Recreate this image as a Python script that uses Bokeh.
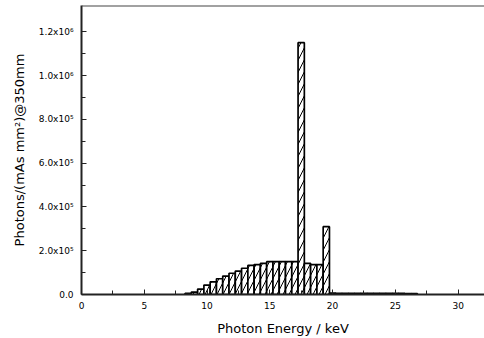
from bokeh.plotting import figure
from bokeh.models import FixedTicker, Span
from bokeh.embed import file_html
from bokeh.resources import INLINE

# Bin centres (keV) and photon counts
energy = [8.5, 9.0, 9.5, 10.0, 10.5, 11.0, 11.5, 12.0, 12.5, 13.0, 13.5, 14.0,
          14.5, 15.0, 15.5, 16.0, 16.5, 17.0, 17.5, 18.0, 18.5, 19.0, 19.5,
          20.0, 20.5, 21.0, 21.5, 22.0, 22.5, 23.0, 23.5, 24.0, 24.5, 25.0,
          25.5, 26.0, 26.5]
photons = [5e3, 1.1e4, 2.5e4, 4.3e4, 5.8e4, 7.2e4, 8.4e4, 9.7e4, 1.07e5, 1.2e5,
           1.33e5, 1.36e5, 1.42e5, 1.5e5, 1.5e5, 1.5e5, 1.5e5, 1.5e5, 1.15e6,
           1.42e5, 1.36e5, 1.36e5, 3.1e5,
           6e3, 5e3, 5e3, 5e3, 5e3, 5e3, 5e3, 5e3, 5e3, 5e3, 5e3, 5e3, 4e3, 4e3]

x_ticks = [0, 5, 10, 15, 20, 25, 30]
x_minor = [2.5, 7.5, 12.5, 17.5, 22.5, 27.5]
y_ticks = [0, 2e5, 4e5, 6e5, 8e5, 1.0e6, 1.2e6]
y_minor = [1e5, 3e5, 5e5, 7e5, 9e5, 1.1e6]
y_labels = ["0.0", "2.0x10\u2075", "4.0x10\u2075", "6.0x10\u2075",
            "8.0x10\u2075", "1.0x10\u2076", "1.2x10\u2076"]
x_title = "Photon Energy / keV"
y_title = "Photons/(mAs mm\u00b2)@350mm"

FONT = "DejaVu Sans"
Y_END = 1.32e6

p = figure(width=484, height=338, output_backend="svg", toolbar_location=None,
           x_range=(0, 32.1), y_range=(0, Y_END),
           min_border_left=81, min_border_right=0, min_border_top=5,
           min_border_bottom=44)

p.vbar(x=energy, top=photons, width=0.5, fill_color="white",
       line_color="black", line_width=1.7, hatch_pattern="/",
       hatch_color="black", hatch_scale=12, hatch_weight=1)

p.xgrid.visible = False
p.ygrid.visible = False
p.outline_line_color = None
p.background_fill_color = "white"
p.border_fill_color = "white"

p.add_layout(Span(location=Y_END, dimension="width", line_color="#444444",
                  line_width=2))

for ax in (p.xaxis[0], p.yaxis[0]):
    ax.axis_line_width = 2
    ax.axis_line_color = "#222222"
    ax.major_tick_in = 5
    ax.major_tick_out = 0
    ax.minor_tick_in = 4
    ax.minor_tick_out = 0
    ax.major_tick_line_color = "#222222"
    ax.minor_tick_line_color = "#222222"
    ax.major_label_text_font = FONT
    ax.major_label_text_font_size = "9px"
    ax.major_label_text_color = "black"
    ax.axis_label_text_font = FONT
    ax.axis_label_text_font_size = "13px"
    ax.axis_label_text_font_style = "normal"
    ax.axis_label_text_color = "black"

p.xaxis.ticker = FixedTicker(ticks=x_ticks, minor_ticks=x_minor)
p.yaxis.ticker = FixedTicker(ticks=y_ticks, minor_ticks=y_minor)
p.yaxis.major_label_overrides = {t: l for t, l in zip(y_ticks, y_labels)}
p.xaxis.major_label_standoff = 7
p.yaxis.major_label_standoff = 8
p.xaxis.axis_label = x_title
p.yaxis.axis_label = y_title
p.xaxis.axis_label_standoff = 9
p.yaxis.axis_label_standoff = 9

open("out.html", "w").write(file_html(p, INLINE))
